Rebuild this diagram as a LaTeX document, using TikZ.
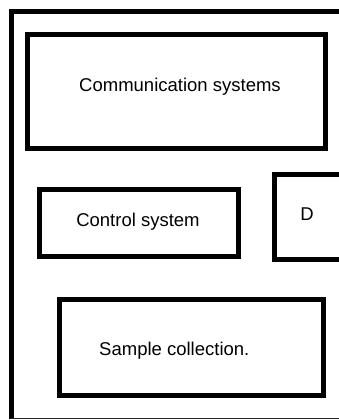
\documentclass[tikz,border=0pt]{standalone}
\usepackage{fontspec}
\setmainfont{Liberation Sans}
\begin{document}
\begin{tikzpicture}[x=1pt,y=-1pt,
  box/.style={draw=black,line width=5pt,rectangle,inner sep=0pt,minimum width=#1},
  lbl/.style={inner sep=0pt,anchor=base,font=\fontsize{18.5}{22}\selectfont}]
\useasboundingbox (0,0) rectangle (339,420);
\clip (0,0) rectangle (339,420);
% outer frame
\coordinate (tr) at (350,11.8);
\coordinate (tl) at (11,11.8);
\coordinate (bl) at (11,418.5);
\coordinate (br) at (350,418.5);
\draw[line width=5pt,line join=miter] (tr) -- (tl) -- (bl);
\draw[line width=1.5pt,black!85] (bl) -- (br);
% boxes
\node[box=298.3pt,minimum height=114.3pt] (comm) at (176.65,91.35) {};
\node[box=198.7pt,minimum height=67pt] (ctrl) at (139.15,223.3) {};
\node[box=100pt,minimum height=85pt] (dbox) at (324.2,216.7) {};
\node[box=264pt,minimum height=96.6pt] (samp) at (191.2,347.5) {};
% labels
\node[lbl] (commt) at (180,91.7) {Communication systems};
\node[lbl] (ctrlt) at (138,226) {Control system};
\node[lbl] (dt) at (307,220.7) {D};
\node[lbl] (sampt) at (174.3,355.7) {Sample collection.};
\end{tikzpicture}
\end{document}
